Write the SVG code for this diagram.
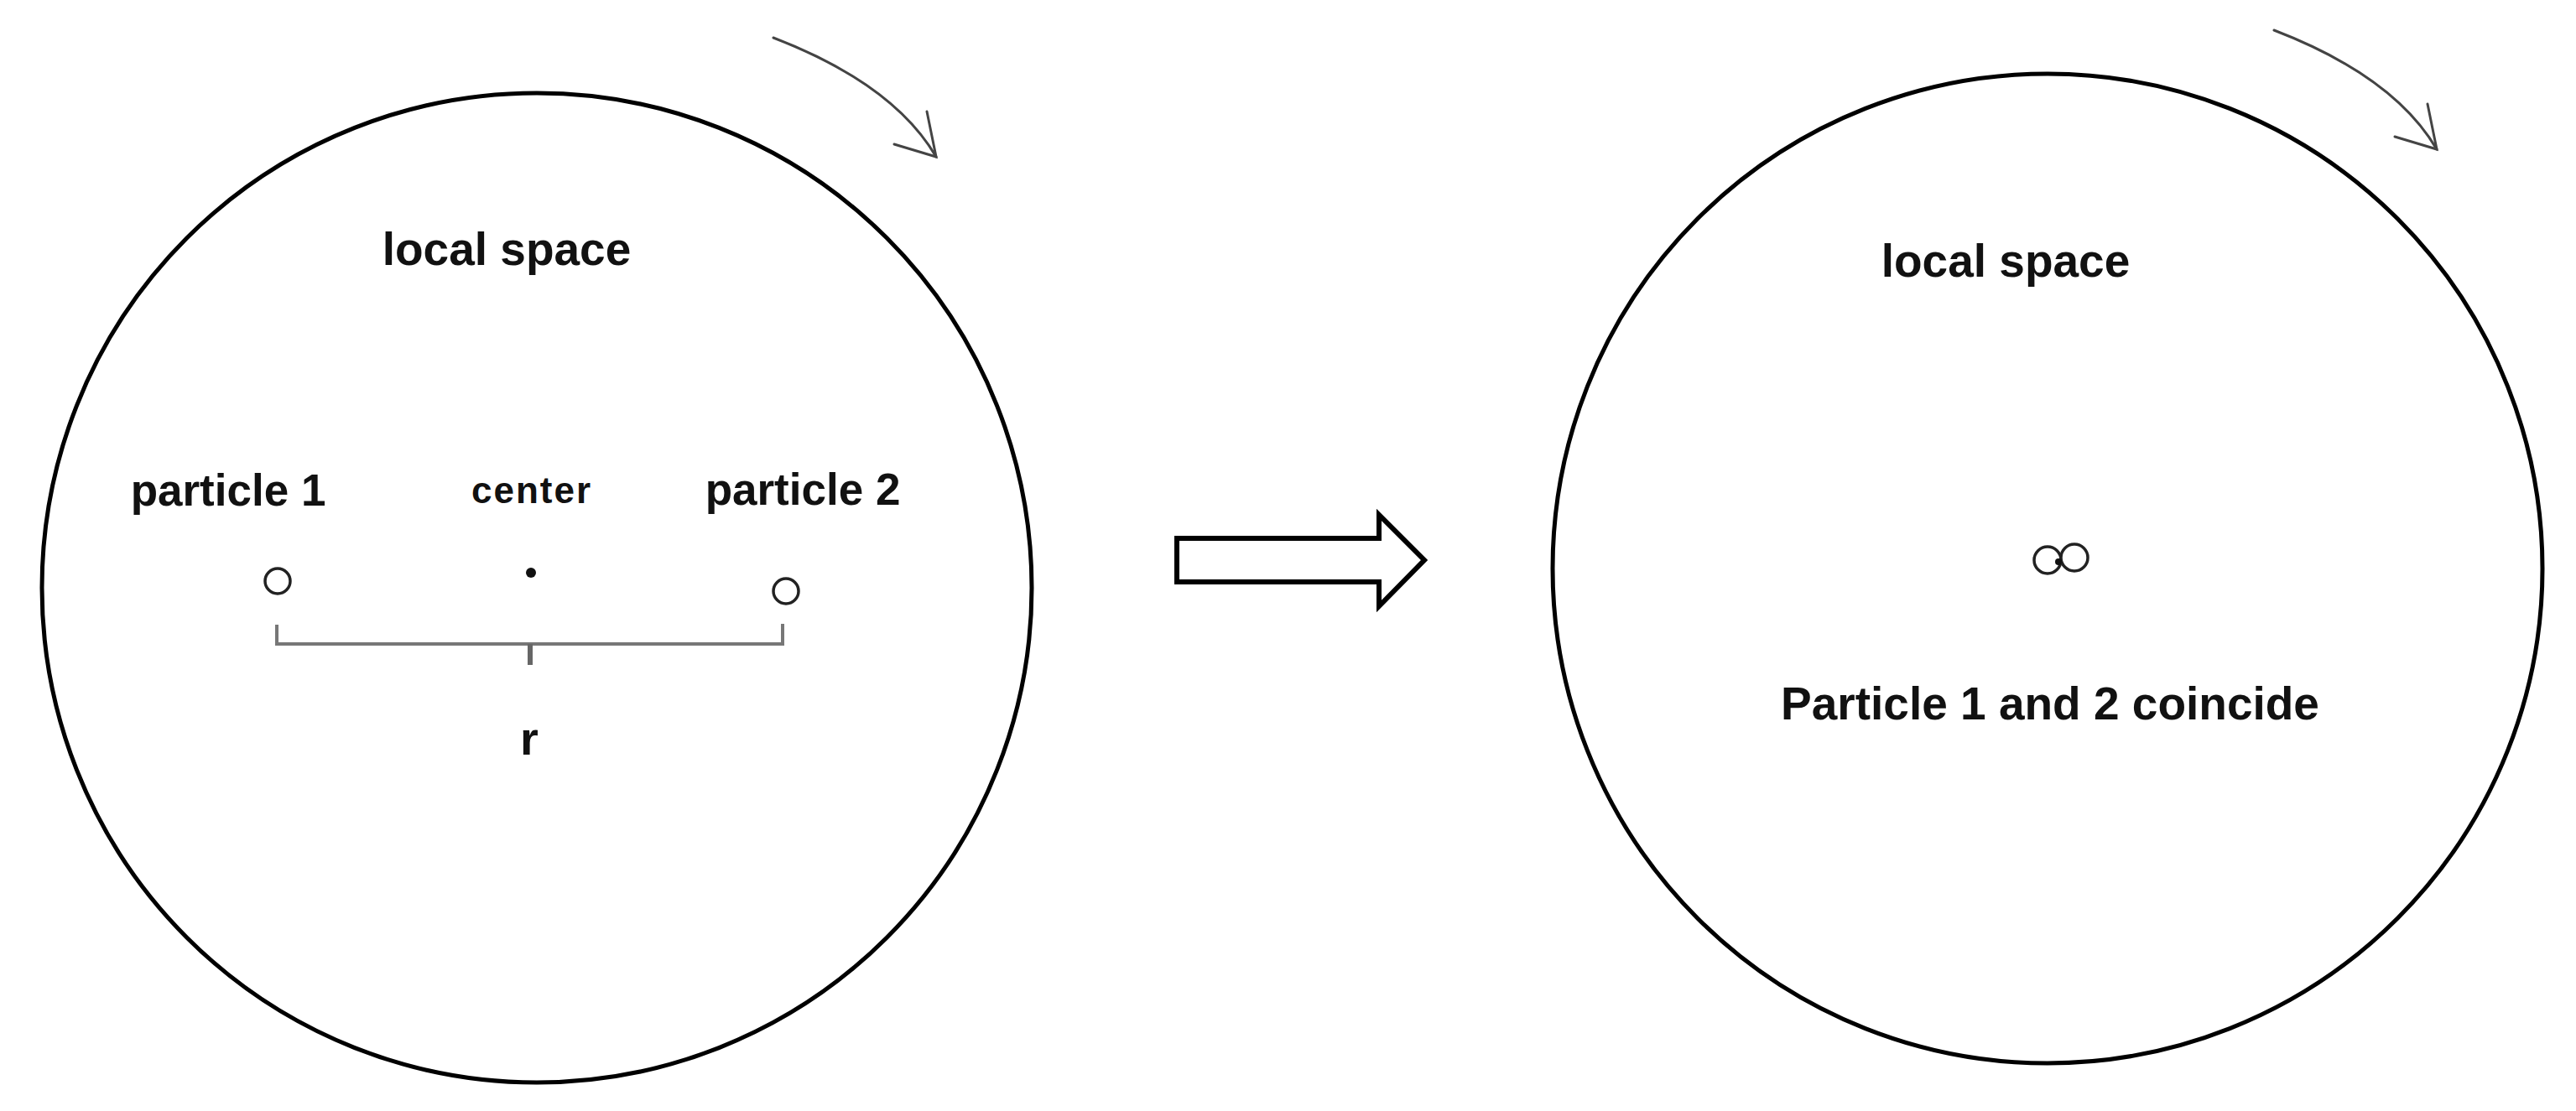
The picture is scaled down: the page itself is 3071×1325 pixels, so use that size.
<svg xmlns="http://www.w3.org/2000/svg" width="3071" height="1325" viewBox="0 0 3071 1325">
<style>
.space{fill:none;stroke:#000;stroke-width:5}
.lbl{font-family:"Liberation Sans",Arial,sans-serif;font-weight:bold;fill:#111;text-anchor:middle}
.pt{fill:#fff;stroke:#222;stroke-width:3.5}
.rot{fill:none;stroke:#444;stroke-width:3;stroke-linecap:round}
.brk{fill:none;stroke:#777;stroke-width:4}
</style>
<rect width="3071" height="1325" fill="#fff"/>
<g id="left-space">
<circle class="space" cx="640" cy="701" r="590"/>
<text class="lbl" x="604" y="316" font-size="55">local space</text>
</g>
<g id="left-rotation">
<path class="rot" d="M922,45 Q1065,100 1116,187"/>
<path class="rot" d="M1066,172 L1116,187 L1105,133"/>
</g>
<g id="particle1">
<circle class="pt" cx="331" cy="693" r="15"/>
<text class="lbl" x="272" y="603" font-size="53">particle 1</text>
</g>
<g id="center">
<circle cx="633" cy="683" r="6" fill="#111"/>
<text class="lbl" x="634" y="600" font-size="44" letter-spacing="2">center</text>
</g>
<g id="particle2">
<circle class="pt" cx="937" cy="705" r="15"/>
<text class="lbl" x="957" y="602" font-size="53">particle 2</text>
</g>
<g id="distance">
<path class="brk" d="M330,745 V768 H933 V744"/>
<path d="M632,768 V793" stroke="#666" stroke-width="6" fill="none"/>
<text class="lbl" x="631" y="900" font-size="56">r</text>
</g>
<g id="connectors">
<polygon points="1403,642 1644,642 1644,614 1698,668 1644,723 1644,694 1403,694" fill="#fff" stroke="#000" stroke-width="6" stroke-linejoin="miter"/>
</g>
<g id="right-space">
<circle class="space" cx="2441" cy="678" r="590"/>
<text class="lbl" x="2391" y="330" font-size="55">local space</text>
</g>
<g id="right-rotation">
<path class="rot" d="M2711,36 Q2854,91 2905,178"/>
<path class="rot" d="M2855,163 L2905,178 L2894,124"/>
</g>
<g id="coincide">
<circle class="pt" cx="2441" cy="668" r="16"/>
<circle class="pt" cx="2473" cy="665" r="16" fill="none"/>
<circle cx="2454" cy="670" r="4" fill="#111"/>
<text class="lbl" x="2444" y="858" font-size="55">Particle 1 and 2 coincide</text>
</g>
</svg>
